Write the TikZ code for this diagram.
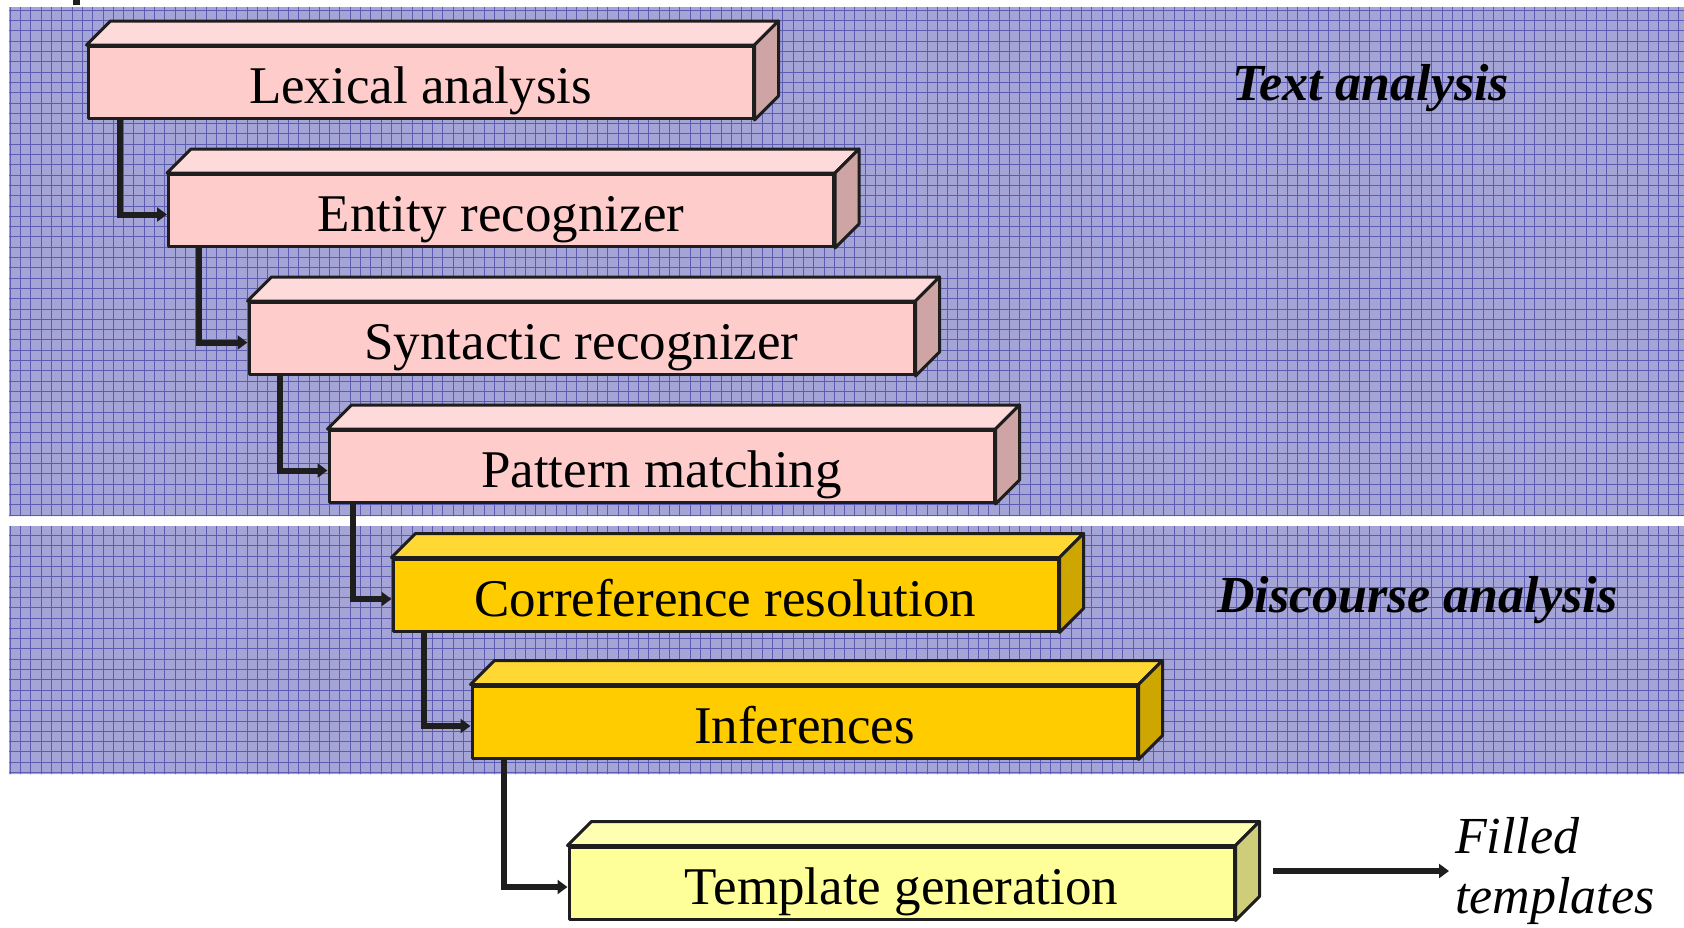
\documentclass[tikz,border=0pt]{standalone}
\usepackage{fontspec}
\setmainfont{Liberation Serif}
\usetikzlibrary{arrows.meta}

\definecolor{bandfill}{RGB}{164,164,214}
\definecolor{bandline}{RGB}{92,92,178}
\definecolor{edge}{RGB}{30,30,30}
\definecolor{pinkfront}{RGB}{255,204,204}
\definecolor{pinktop}{RGB}{255,218,218}
\definecolor{pinkside}{RGB}{206,164,164}
\definecolor{goldfront}{RGB}{255,204,0}
\definecolor{goldtop}{RGB}{255,216,51}
\definecolor{goldside}{RGB}{206,166,0}
\definecolor{lemonfront}{RGB}{255,255,153}
\definecolor{lemontop}{RGB}{255,255,178}
\definecolor{lemonside}{RGB}{206,206,122}

\newcommand\stagefont{\fontsize{53pt}{60pt}\selectfont}
\newcommand\labelfont{\fontsize{52pt}{60pt}\selectfont}

% top and right faces of a 3-D stage box
\newcommand\boxfaces[3]{%
  \draw[face, fill=#2] (#1.north west) -- ++(24pt,24pt)
    -- ([shift={(24pt,24pt)}]#1.north east) -- (#1.north east) -- cycle;
  \draw[face, fill=#3] (#1.north east) -- ++(24pt,24pt)
    -- ([shift={(24pt,24pt)}]#1.south east) -- (#1.south east) -- cycle;
}

\tikzset{
  stagebox/.style={draw=edge, line width=3pt, line join=round,
    minimum width=665pt, minimum height=72pt, inner sep=0pt,
    text height=42pt, text depth=0pt, font=\stagefont},
  face/.style={draw=edge, line width=3pt, line join=round},
  conn/.style={draw=edge, line width=6pt,
    -{Triangle[length=10pt,width=14pt]}},
  phase/.style={font=\labelfont\bfseries\itshape, inner sep=0pt, anchor=base west},
}

\begin{document}
\begin{tikzpicture}[x=1pt,y=-1pt]
\useasboundingbox (0,0) rectangle (1684,927);

% gridded background bands
\begin{scope}
  \clip (9,7) rectangle (1684,516) (9,526) rectangle (1684,774);
  \fill[bandfill] (0,0) rectangle (1684,927);
  \draw[bandline, line width=0.9pt] (0,0) grid[step=10.3pt] (1684,927);
\end{scope}

\fill[edge] (73,0) rectangle (80,5);

% stages
\node[stagebox, fill=pinkfront] (b1) at (420.5,82.5) {Lexical analysis};
\node[stagebox, fill=pinkfront] (b2) at (501,210.5) {Entity recognizer};
\node[stagebox, fill=pinkfront] (b3) at (581.5,338.5) {Syntactic recognizer};
\node[stagebox, fill=pinkfront] (b4) at (661.5,466.5) {Pattern matching};
\node[stagebox, fill=goldfront] (b5) at (725.5,595) {Correference resolution};
\node[stagebox, fill=goldfront] (b6) at (804.5,722) {Inferences};
\node[stagebox, fill=lemonfront] (b7) at (901.5,883) {Template generation};

\boxfaces{b1}{pinktop}{pinkside}
\boxfaces{b2}{pinktop}{pinkside}
\boxfaces{b3}{pinktop}{pinkside}
\boxfaces{b4}{pinktop}{pinkside}
\boxfaces{b5}{goldtop}{goldside}
\boxfaces{b6}{goldtop}{goldside}
\boxfaces{b7}{lemontop}{lemonside}

% connectors between stages
\draw[conn] ([xshift=33pt]b1.south west) |- ([yshift=-4pt]b2.west);
\draw[conn] ([xshift=32pt]b2.south west) |- ([yshift=-4pt]b3.west);
\draw[conn] ([xshift=32pt]b3.south west) |- ([yshift=-4pt]b4.west);
\draw[conn] ([xshift=25pt]b4.south west) |- ([yshift=-4pt]b5.west);
\draw[conn] ([xshift=32pt]b5.south west) |- ([yshift=-4pt]b6.west);
\draw[conn] ([xshift=33pt]b6.south west) |- ([yshift=-4pt]b7.west);

% phase labels
\node[phase] (ta) at (1232,100) {Text analysis};
\node[phase] (da) at (1217,612) {Discourse analysis};

% output
\node[font=\labelfont\itshape, align=left, inner sep=0pt, anchor=west] (ft) at (1455,871) {Filled\\templates};
\coordinate (outstart) at (1273,871);
\draw[conn, line width=5.5pt] (outstart) -- ([xshift=-6pt]ft.west);
\end{tikzpicture}
\end{document}
